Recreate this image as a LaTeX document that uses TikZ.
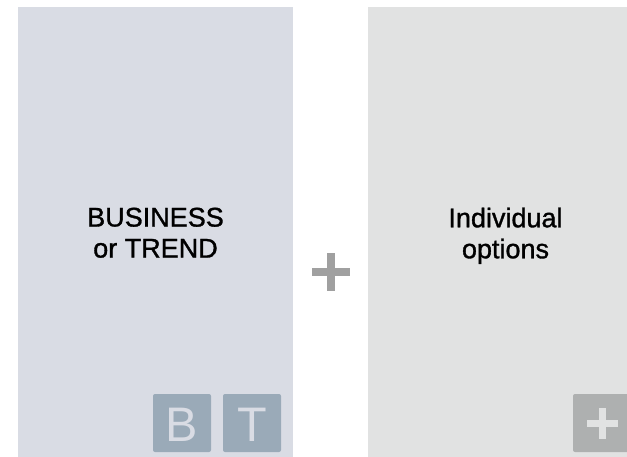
\documentclass[tikz,border=0pt]{standalone}
\usepackage{fontspec}
\setmainfont{Liberation Sans}
\newfontfamily\titlefont[FakeBold=1.2]{Liberation Sans}
\usetikzlibrary{positioning}
\definecolor{bizpanel}{HTML}{D9DCE4}
\definecolor{optpanel}{HTML}{E1E2E2}
\definecolor{bizbox}{HTML}{9AAAB8}
\definecolor{optbox}{HTML}{AEB0B0}
\definecolor{plusgray}{HTML}{A0A0A0}

\begin{document}
\begin{tikzpicture}[x=1pt,y=-1pt,
  title/.style={font=\titlefont\fontsize{27}{31}\selectfont,text=black,align=center,inner sep=0pt,anchor=north},
  tagbox/.style={rounded corners=2pt,draw=none},
  tagletter/.style={font=\fontsize{48.5}{48.5}\selectfont,text=bizpanel,anchor=base,inner sep=0pt}]
\useasboundingbox (0,0) rectangle (627,457);
\begin{scope}
\clip (0,0) rectangle (627,457);
\fill[bizpanel] (18,7) rectangle (293,457);
\fill[optpanel] (368,7) rectangle (643,457);

\node[title] (business) at (155.5,207.5) {BUSINESS\\or TREND};
\node[title] (options) at (505.5,207.5) {Individual\\options};

% B and T tags
\fill[bizbox,tagbox] (153,394) rectangle (211,452);
\fill[bizbox,tagbox] (223,394) rectangle (281,452);
\node[tagletter] (bletter) at (182,441) {B};
\node[tagletter] (tletter) at (252,441) {T};

% plus tag
\fill[optbox,tagbox] (573,394) rectangle (631,452);
\fill[optpanel] (587,420) rectangle (618,427);
\fill[optpanel] (599,408) rectangle (606,439);
\end{scope}

% plus between panels
\fill[plusgray] (312,268) rectangle (350,276);
\fill[plusgray] (327,253) rectangle (335,291);

\end{tikzpicture}
\end{document}
